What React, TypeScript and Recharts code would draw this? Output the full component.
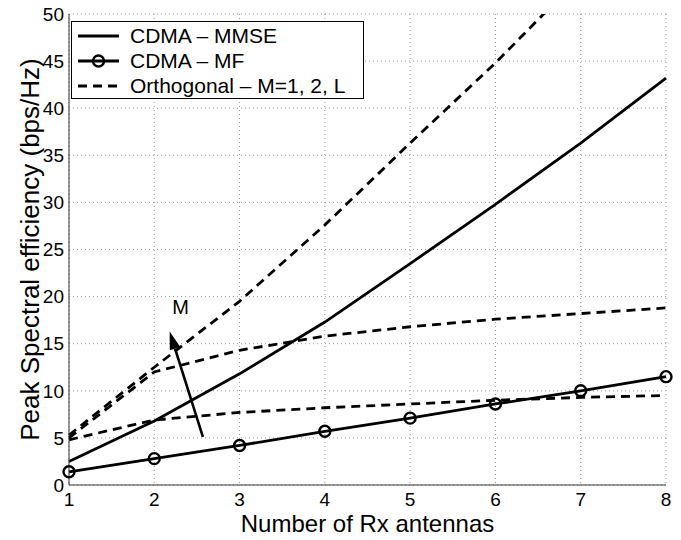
import React from 'react';
import { LineChart, Line, XAxis, YAxis, CartesianGrid, ReferenceLine } from 'recharts';

// Number of receive antennas
const antennas = [1, 2, 3, 4, 5, 6, 7, 8];
// Peak spectral efficiency (bps/Hz) per scheme
const cdmaMmse = [2.5, 6.8, 11.8, 17.3, 23.5, 29.8, 36.3, 43.2];
const cdmaMf = [1.4, 2.8, 4.2, 5.7, 7.1, 8.6, 10.0, 11.5];
const orthM1 = [4.8, 6.9, 7.7, 8.2, 8.6, 9.0, 9.3, 9.5];
const orthM2 = [5.0, 12.0, 14.3, 15.8, 16.8, 17.6, 18.2, 18.8];
const orthML = [5.3, 12.5, 19.5, 27.6, 36.3, 44.8, 54.0, 63.5];

const xTicks = [1, 2, 3, 4, 5, 6, 7, 8];
const yTicks = [0, 5, 10, 15, 20, 25, 30, 35, 40, 45, 50];

// Arrow showing the direction of increasing M
const arrowFrom = { x: 2.57, y: 5.1 };
const arrowTo = { x: 2.18, y: 16.3 };

const data = antennas.map((n, i) => ({
  n,
  mmse: cdmaMmse[i],
  mf: cdmaMf[i],
  o1: orthM1[i],
  o2: orthM2[i],
  oL: orthML[i],
}));

const FONT = '"Liberation Sans", Arial, Helvetica, sans-serif';
const DASH = '9 6';
const AXIS = '#333';
const LW = 2.8;

const ArrowShape = (props: any) => {
  const { x1, y1, x2, y2 } = props;
  if ([x1, y1, x2, y2].some((v) => typeof v !== 'number' || isNaN(v))) return null;
  const dx = x2 - x1;
  const dy = y2 - y1;
  const len = Math.sqrt(dx * dx + dy * dy);
  const ux = dx / len;
  const uy = dy / len;
  const headLen = 18;
  const headW = 5.5;
  const bx = x2 - ux * headLen;
  const by = y2 - uy * headLen;
  const px = -uy;
  const py = ux;
  const pts = `${x2},${y2} ${bx + px * headW},${by + py * headW} ${bx - px * headW},${by - py * headW}`;
  return (
    <g>
      <line x1={x1} y1={y1} x2={bx} y2={by} stroke="#000" strokeWidth={2.6} />
      <polygon points={pts} fill="#000" />
      <text x={x2 + 11} y={y2 - 17} textAnchor="middle" fontFamily={FONT} fontSize={20} fill="#000">
        M
      </text>
    </g>
  );
};

const legendItems = [
  { label: 'CDMA – MMSE', dash: undefined, marker: false },
  { label: 'CDMA – MF', dash: undefined, marker: true },
  { label: 'Orthogonal – M=1, 2, L', dash: DASH, marker: false },
];

const LegendBox = () => (
  <div
    style={{
      position: 'absolute',
      left: 71,
      top: 21,
      width: 293,
      height: 78,
      border: '1px solid #000',
      background: '#fff',
      boxSizing: 'border-box',
      fontFamily: FONT,
      fontSize: 21,
      color: '#000',
      paddingTop: 1.5,
    }}
  >
    {legendItems.map((it) => (
      <div key={it.label} style={{ display: 'flex', alignItems: 'center', height: 25 }}>
        <svg width={58} height={20} style={{ flex: 'none' }}>
          <line x1={6} y1={10} x2={47} y2={10} stroke="#000" strokeWidth={LW} strokeDasharray={it.dash} />
          {it.marker && <circle cx={26.5} cy={10} r={5.5} fill="none" stroke="#000" strokeWidth={2.4} />}
        </svg>
        <span style={{ lineHeight: '22px', whiteSpace: 'nowrap' }}>{it.label}</span>
      </div>
    ))}
  </div>
);

export default function App() {
  return (
    <div style={{ position: 'absolute', left: 0, top: 0, width: 681, height: 540, background: '#fff' }}>
      <LineChart
        width={681}
        height={540}
        data={data}
        margin={{ top: 14, right: 15, left: 22, bottom: 4 }}
      >
        <CartesianGrid stroke="#999" strokeDasharray="1 3" strokeWidth={1} />
        {/* inward tick marks on all four sides */}
        <XAxis xAxisId="bottomIn" dataKey="n" type="number" domain={[1, 8]} ticks={xTicks} height={0} mirror tick={false} stroke={AXIS} tickSize={6} />
        <XAxis xAxisId="top" dataKey="n" type="number" orientation="top" domain={[1, 8]} ticks={xTicks} height={0} mirror tick={false} stroke={AXIS} tickSize={6} />
        <YAxis yAxisId="leftIn" type="number" domain={[0, 50]} ticks={yTicks} width={0} mirror tick={false} stroke={AXIS} tickSize={6} />
        <YAxis yAxisId="right" orientation="right" type="number" domain={[0, 50]} ticks={yTicks} width={0} mirror tick={false} stroke={AXIS} tickSize={6} />
        <XAxis
          dataKey="n"
          type="number"
          domain={[1, 8]}
          ticks={xTicks}
          height={51}
          stroke={AXIS}
          tickLine={false}
          tickSize={6}
          tickMargin={2}
          tick={{ fontFamily: FONT, fontSize: 19, fill: '#000', dy: 0 }}
          label={{ value: 'Number of Rx antennas', position: 'insideBottom', offset: 4, fontFamily: FONT, fontSize: 24, fill: '#000' }}
        />
        <YAxis
          type="number"
          domain={[0, 50]}
          ticks={yTicks}
          allowDataOverflow
          width={47}
          stroke={AXIS}
          tickLine={false}
          tickSize={3}
          tickMargin={2}
          tick={{ fontFamily: FONT, fontSize: 19, fill: '#000' }}
          label={{
            value: 'Peak Spectral efficiency (bps/Hz)',
            angle: -90,
            position: 'insideLeft',
            offset: 8,
            style: { textAnchor: 'middle', fontFamily: FONT, fontSize: 26, fill: '#000' },
          }}
        />
        <Line dataKey="mmse" name="CDMA – MMSE" stroke="#000" strokeWidth={LW} dot={false} isAnimationActive={false} />
        <Line
          dataKey="mf"
          name="CDMA – MF"
          stroke="#000"
          strokeWidth={LW}
          dot={{ r: 5.5, fill: 'none', stroke: '#000', strokeWidth: 2.4 }}
          isAnimationActive={false}
        />
        <Line dataKey="o1" name="Orthogonal – M=1" stroke="#000" strokeWidth={LW} strokeDasharray={DASH} dot={false} isAnimationActive={false} />
        <Line dataKey="o2" name="Orthogonal – M=2" stroke="#000" strokeWidth={LW} strokeDasharray={DASH} dot={false} isAnimationActive={false} />
        <Line dataKey="oL" name="Orthogonal – M=L" stroke="#000" strokeWidth={LW} strokeDasharray={DASH} dot={false} isAnimationActive={false} />
        <ReferenceLine
          segment={[arrowFrom, arrowTo]}
          ifOverflow="visible"
          shape={(p: any) => <ArrowShape {...p} />}
        />
      </LineChart>
      <LegendBox />
    </div>
  );
}
